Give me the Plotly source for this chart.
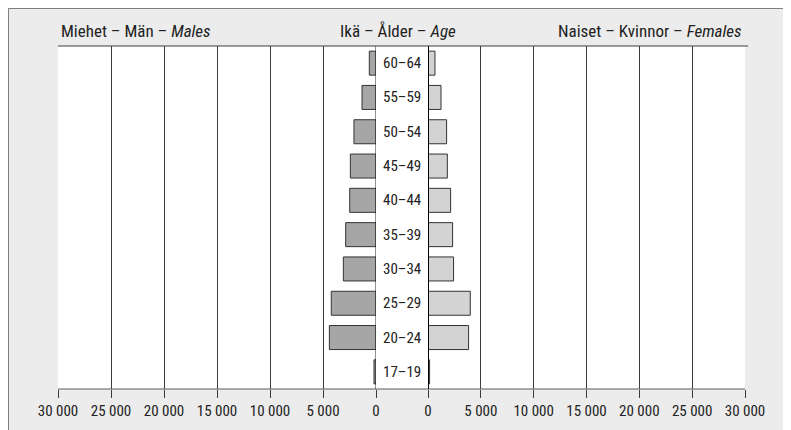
import plotly.graph_objects as go

# ---- data ----
age_groups = ["17–19", "20–24", "25–29", "30–34", "35–39",
              "40–44", "45–49", "50–54", "55–59", "60–64"]
males = [190, 4400, 4220, 3080, 2860, 2480, 2420, 2080, 1320, 630]
females = [150, 3840, 4000, 2420, 2330, 2140, 1830, 1760, 1230, 660]
tick_values = [0, 5000, 10000, 15000, 20000, 25000, 30000]
tick_labels = ["0", "5 000", "10 000", "15 000", "20 000", "25 000", "30 000"]
title_males = "Miehet – Män – <i>Males</i>"
title_age = "Ikä – Ålder – <i>Age</i>"
title_females = "Naiset – Kvinnor – <i>Females</i>"

# page has an 8px body margin; figure is placed at (8, 8)
OFF = 8
W, H = 791 - OFF, 430 - OFF
L = 58 - OFF
T = 46 - OFF
R = W - (745 - OFF)
B = H - (389 - OFF)
PW = W - L - R
PH = H - T - B


def px(x):  # page x -> paper
    return (x - OFF - L) / PW


def py(y):  # page y -> paper
    return (H - B - (y - OFF)) / PH


FONT = "Liberation Sans Narrow, Arial Narrow, Roboto Condensed, DejaVu Sans Condensed, sans-serif"
TXT = "#222222"
GRID = "#3c3c3c"

pos = list(range(len(age_groups)))

fig = go.Figure()
fig.add_trace(go.Bar(
    y=pos, x=males, orientation="h", xaxis="x", yaxis="y",
    marker=dict(color="#a6a6a6", line=dict(color="#333333", width=1)),
    showlegend=False, hoverinfo="skip"))
fig.add_trace(go.Bar(
    y=pos, x=females, orientation="h", xaxis="x2", yaxis="y",
    marker=dict(color="#d3d3d3", line=dict(color="#333333", width=1)),
    showlegend=False, hoverinfo="skip"))

axis_common = dict(
    tickvals=tick_values, ticktext=tick_labels,
    showgrid=True, gridcolor=GRID, gridwidth=1,
    ticks="outside", ticklen=8, tickcolor=GRID, tickwidth=1,
    zeroline=False, showline=False, automargin=False,
    tickfont=dict(family=FONT, size=15, color=TXT),
)

fig.update_layout(
    width=W, height=H,
    margin=dict(l=L, r=R, t=T, b=B),
    paper_bgcolor="#ececec", plot_bgcolor="white",
    bargap=0.3,
    xaxis=dict(domain=[0, px(376)], range=[30000, 0], anchor="y", **axis_common),
    xaxis2=dict(domain=[px(428), 1], range=[0, 30000], anchor="y", **axis_common),
    yaxis=dict(range=[-0.5, len(age_groups) - 0.5], visible=False, showgrid=False),
    shapes=[
        dict(type="rect", xref="paper", yref="paper", layer="below",
             x0=px(8.5), x1=px(820), y0=py(460), y1=py(8.5),
             fillcolor="#ececec", line=dict(color="#7f7f7f", width=1)),
        dict(type="rect", xref="paper", yref="paper", layer="below",
             x0=0, x1=1, y0=0, y1=1, fillcolor="white", line=dict(width=0)),
        dict(type="line", xref="paper", yref="paper",
             x0=0, x1=px(748), y0=1, y1=1, line=dict(color=GRID, width=1)),
        dict(type="line", xref="paper", yref="paper",
             x0=0, x1=1, y0=0, y1=0, line=dict(color="#5a5a5a", width=1)),
        dict(type="line", xref="x", yref="paper",
             x0=0, x1=0, y0=0, y1=1, line=dict(color="#222222", width=1)),
        dict(type="line", xref="x2", yref="paper",
             x0=0, x1=0, y0=0, y1=1, line=dict(color="#000000", width=2)),
    ],
)

annotations = []
for p, lab in zip(pos, age_groups):
    annotations.append(dict(
        x=px(402), y=p, xref="paper", yref="y", text=lab, showarrow=False,
        xanchor="center", yanchor="middle",
        font=dict(family=FONT, size=15, color=TXT)))
annotations.append(dict(x=px(59), y=py(31), xref="paper", yref="paper",
                        text=title_males, showarrow=False, xanchor="left", yanchor="middle",
                        font=dict(family=FONT, size=17, color=TXT)))
annotations.append(dict(x=px(398), y=py(31), xref="paper", yref="paper",
                        text=title_age, showarrow=False, xanchor="center", yanchor="middle",
                        font=dict(family=FONT, size=17, color=TXT)))
annotations.append(dict(x=px(744), y=py(31), xref="paper", yref="paper",
                        text=title_females, showarrow=False, xanchor="right", yanchor="middle",
                        font=dict(family=FONT, size=17, color=TXT)))
fig.update_layout(annotations=annotations)

fig.write_html("out.html")
